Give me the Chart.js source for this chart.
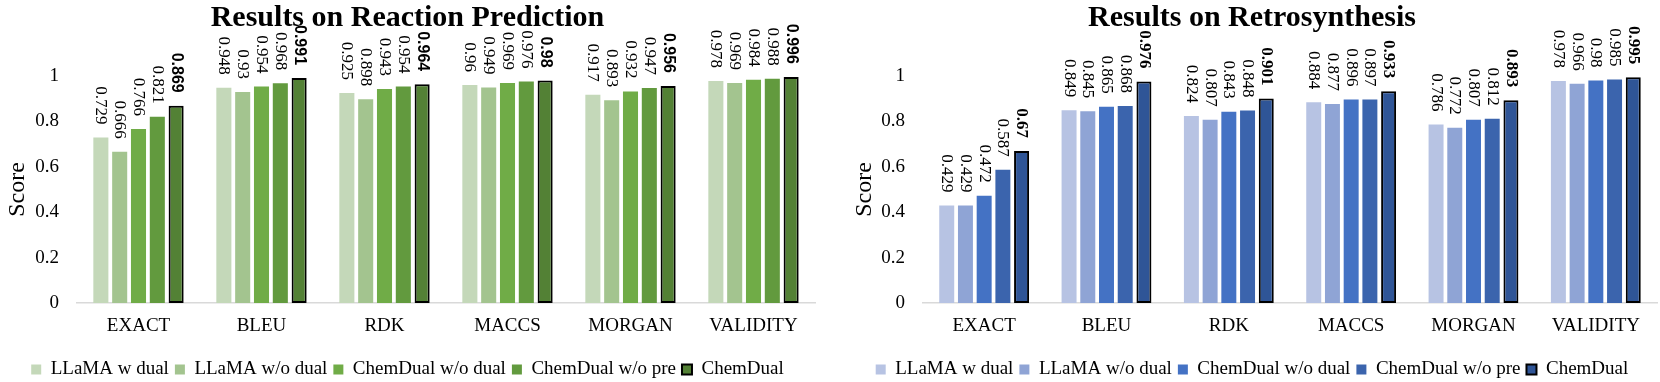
<!DOCTYPE html>
<html>
<head>
<meta charset="utf-8">
<script src="https://cdn.jsdelivr.net/npm/chart.js@4"></script>
<style>
  html, body { margin: 0; padding: 0; background: #fff; overflow: hidden; }
  .panel { position: absolute; top: 0; width: 830px; height: 389px; }
  #left { left: 0; }
  #right { left: 830px; }
</style>
</head>
<body>
<div class="panel" id="left"><canvas id="chart-reaction" width="830" height="389"></canvas></div>
<div class="panel" id="right"><canvas id="chart-retro" width="830" height="389"></canvas></div>
<script>
// --- DADOS ---
const categories = ['EXACT', 'BLEU', 'RDK', 'MACCS', 'MORGAN', 'VALIDITY'];
const seriesNames = ['LLaMA w dual', 'LLaMA w/o dual', 'ChemDual w/o dual', 'ChemDual w/o pre', 'ChemDual'];

// Reaction prediction
const reactionLlamaDual   = [0.729, 0.948, 0.925, 0.96, 0.917, 0.978];
const reactionLlamaNoDual = [0.666, 0.93, 0.898, 0.949, 0.893, 0.969];
const reactionChemNoDual  = [0.766, 0.954, 0.943, 0.969, 0.932, 0.984];
const reactionChemNoPre   = [0.821, 0.968, 0.954, 0.976, 0.947, 0.988];
const reactionChemDual    = [0.869, 0.991, 0.964, 0.98, 0.956, 0.996];

// Retrosynthesis
const retroLlamaDual   = [0.429, 0.849, 0.824, 0.884, 0.786, 0.978];
const retroLlamaNoDual = [0.429, 0.845, 0.807, 0.877, 0.772, 0.966];
const retroChemNoDual  = [0.472, 0.865, 0.843, 0.896, 0.807, 0.98];
const retroChemNoPre   = [0.587, 0.868, 0.848, 0.897, 0.812, 0.985];
const retroChemDual    = [0.67, 0.976, 0.901, 0.933, 0.893, 0.995];

// cores
const greens = ['#c4d8b9', '#a3c48f', '#70ac47', '#629a3e', '#538135'];
const blues  = ['#b7c3e3', '#8fa4d5', '#4472c4', '#3b64ad', '#2f5597'];

const SERIF = '"Liberation Serif", "Times New Roman", serif';

// rótulos girados em cima das barras
const valueLabels = {
    id: 'valueLabels',
    afterDatasetsDraw(chart, args, opts) {
        const ctx = chart.ctx;
        const last = chart.data.datasets.length - 1;
        chart.data.datasets.forEach((ds, i) => {
            const meta = chart.getDatasetMeta(i);
            ctx.save();
            ctx.font = i === last ? opts.boldFont : '17px ' + SERIF;
            ctx.fillStyle = '#000';
            ctx.textAlign = 'right';
            ctx.textBaseline = 'middle';
            meta.data.forEach((bar, j) => {
                ctx.save();
                ctx.translate(bar.x, bar.y - 13);
                ctx.rotate(Math.PI / 2);
                ctx.fillText(String(ds.data[j]), 0, 0);
                ctx.restore();
            });
            ctx.restore();
        });
    }
};

function montarGrafico(canvasId, titulo, series, colors, pad, yWidth, boldFont) {
    const datasets = series.map((values, i) => {
        const best = i === series.length - 1;
        return {
            label: seriesNames[i],
            data: values,
            backgroundColor: colors[i],
            borderColor: best ? '#000' : colors[i],
            borderWidth: best ? 2 : 0,
            borderSkipped: false,
            categoryPercentage: 0.765,
            barPercentage: 0.8
        };
    });

    return new Chart(document.getElementById(canvasId), {
        type: 'bar',
        data: { labels: categories, datasets: datasets },
        plugins: [valueLabels],
        options: {
            responsive: false,
            animation: false,
            layout: { padding: { left: pad.left, right: pad.right, top: 0, bottom: 0 } },
            plugins: {
                title: {
                    display: true,
                    text: titulo,
                    color: '#000',
                    font: { family: SERIF, size: 30, weight: 'bold', lineHeight: 1.2 },
                    padding: { top: 0, bottom: 40 }
                },
                legend: {
                    position: 'bottom',
                    labels: {
                        color: '#000',
                        font: { family: SERIF, size: 19 },
                        boxWidth: 10,
                        boxHeight: 10,
                        padding: 6
                    }
                },
                tooltip: { enabled: false },
                valueLabels: { boldFont: boldFont }
            },
            scales: {
                x: {
                    grid: { display: false, drawTicks: false },
                    border: { display: true, color: '#d9d9d9', width: 1.5 },
                    ticks: { color: '#000', font: { family: SERIF, size: 19 }, padding: 12 },
                    afterFit: (s) => { s.height = 51; }
                },
                y: {
                    min: 0,
                    max: 1,
                    grid: { display: false, drawTicks: false },
                    border: { display: false },
                    ticks: {
                        stepSize: 0.2,
                        color: '#000',
                        font: { family: SERIF, size: 19 },
                        padding: 18,
                        callback: (v) => String(Math.round(v * 10) / 10)
                    },
                    title: {
                        display: true,
                        text: 'Score',
                        color: '#000',
                        font: { family: SERIF, size: 24, lineHeight: 1.2 },
                        padding: { top: 3, bottom: 0 }
                    },
                    afterFit: (s) => { s.width = yWidth; }
                }
            }
        }
    });
}

montarGrafico('chart-reaction', 'Results on Reaction Prediction',
    [reactionLlamaDual, reactionLlamaNoDual, reactionChemNoDual, reactionChemNoPre, reactionChemDual],
    greens, { left: 0, right: 15 }, 77, 'bold 16px "Liberation Sans", Arial, sans-serif');

montarGrafico('chart-retro', 'Results on Retrosynthesis',
    [retroLlamaDual, retroLlamaNoDual, retroChemNoDual, retroChemNoPre, retroChemDual],
    blues, { left: 17, right: 3 }, 76, 'bold 17px ' + SERIF);
</script>
</body>
</html>
